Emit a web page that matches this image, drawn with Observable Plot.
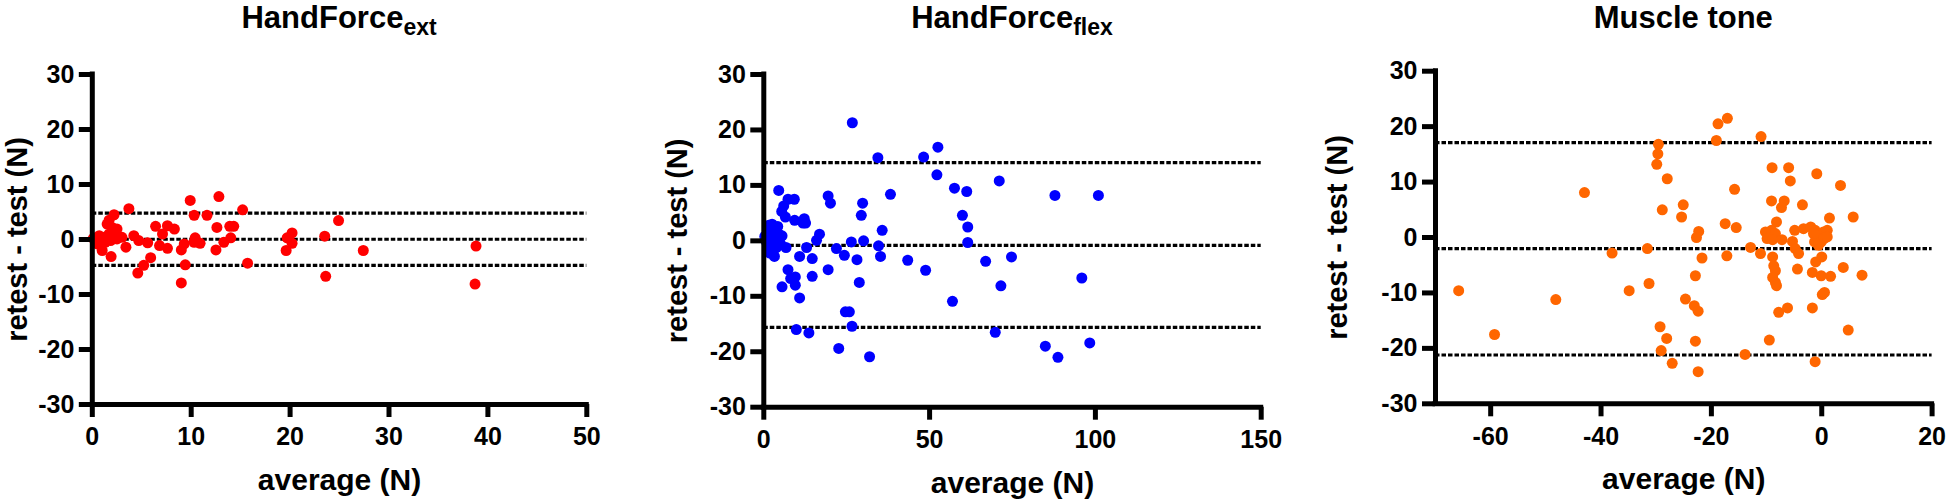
<!DOCTYPE html>
<html>
<head>
<meta charset="utf-8">
<script src="https://cdn.jsdelivr.net/npm/d3@7"></script>
<script src="https://cdn.jsdelivr.net/npm/@observablehq/plot@0.6"></script>
<style>
  html, body { margin: 0; padding: 0; background: #fff; }
  #root { position: relative; width: 1946px; height: 499px; overflow: hidden; font-family: "Liberation Sans", Arial, sans-serif; }
  .panel { position: absolute; top: 0; }
  .title { position: absolute; top: 0; text-align: center; font-weight: bold; font-size: 31px; line-height: 36px; color: #000; white-space: nowrap; }
  .title sub { font-size: 23px; vertical-align: -7px; line-height: 0; }
</style>
</head>
<body>
<div id="root"></div>
<script>
// ---- data ----
const yTicks = [-30, -20, -10, 0, 10, 20, 30];
const yDomain = [-30, 30];

const extTicks = [0, 10, 20, 30, 40, 50];
const extDomain = [0, 50];
const extLimits = [4.8, 0.05, -4.7];
const extPoints = [
  [3.7,5.6],[9.9,7.1],[12.8,7.8],[15.2,5.4],[2.2,4.5],[1.7,3.5],[10.3,4.4],[11.6,4.4],[6.4,2.4],[7.6,2.5],
  [8.3,1.9],[7.1,1.0],[12.6,2.2],[13.9,2.4],[14.3,2.4],[14.0,0.3],[13.3,-0.5],[10.4,0.3],[10.3,-0.5],[10.9,-0.7],
  [9.3,-0.8],[9.0,-1.9],[9.4,-4.6],[9.0,-7.9],[12.5,-1.9],[15.7,-4.3],[6.8,-1.1],[7.6,-1.6],[5.6,-0.6],[5.9,-3.3],
  [5.2,-4.7],[4.6,-6.1],[4.7,-0.2],[4.2,0.7],[3.4,-1.4],[1.9,-3.1],[1.0,-2.0],[0.3,-0.1],[0.7,0.7],[1.2,0.4],
  [1.7,1.0],[2.2,0.7],[2.5,0.1],[2.0,2.2],[2.5,1.9],[1.5,2.8],[0.8,-0.5],[1.3,-0.5],[3.0,0.4],[0.5,-0.8],
  [1.85,-0.2],[0.1,0.2],[0.4,0.3],[24.9,3.45],[20.2,1.2],[19.7,0.3],[20.2,-0.7],[19.6,-2.0],[23.5,0.6],[27.4,-2.0],
  [23.6,-6.7],[38.8,-1.2],[38.7,-8.1]
];

const flexTicks = [0, 50, 100, 150];
const flexDomain = [0, 150];
const flexLimits = [14.1, -0.8, -15.6];
const flexPoints = [
  [26.7,21.3],[34.4,15.0],[48.2,15.1],[52.5,16.9],[52.2,11.9],[57.5,9.5],[61.2,8.9],[71.0,10.8],[87.8,8.2],[100.9,8.2],
  [38.2,8.4],[29.8,6.8],[29.4,4.6],[59.9,4.6],[61.5,2.5],[61.5,-0.3],[35.7,1.9],[30.1,0.0],[26.4,-0.2],[34.6,-0.9],
  [35.2,-2.8],[28.1,-3.4],[24.3,-2.6],[21.9,-1.4],[43.4,-3.5],[48.8,-5.3],[66.9,-3.7],[74.7,-2.9],[28.8,-7.5],[19.4,-5.2],
  [71.5,-8.1],[95.9,-6.7],[56.9,-10.9],[24.6,-12.8],[25.8,-12.8],[26.6,-15.4],[69.8,-16.5],[98.3,-18.4],[84.9,-19.0],[88.7,-21.0],
  [31.9,-20.9],[22.6,-19.4],[13.6,-16.6],[9.8,-16.0],[10.8,-10.3],[9.5,-8.0],[9.5,-6.5],[8.1,-6.8],[7.3,-5.2],[5.5,-8.3],
  [14.6,-6.4],[14.6,-3.2],[10.8,-2.8],[12.9,-1.2],[6.7,-1.2],[15.9,0.1],[16.8,1.2],[19.4,8.1],[20.1,6.8],[9.2,7.5],
  [7.3,7.5],[4.5,9.1],[6.0,6.3],[5.4,5.3],[6.5,4.3],[9.3,3.7],[12.2,4.0],[12.6,3.2],[11.8,3.2],
  [0.5,0.3],[1.0,1.2],[1.5,2.8],[2.0,0.5],[2.5,3.0],[3.0,2.0],[3.5,1.0],[1.2,-0.5],[2.0,-1.0],[2.8,-1.8],
  [3.2,-2.8],[0.8,-0.2],[4.0,0.2],[4.5,1.2],[5.0,-0.5],[3.8,-1.2],[2.2,1.8],[1.8,-2.2],[0.3,0.8],[5.5,0.9],
  [4.2,2.6],[3.0,-0.3],[1.5,0.0]
];

const toneTicks = [-60, -40, -20, 0, 20];
const toneDomain = [-70, 20];
const toneLimits = [17.1, -2.0, -21.2];
const tonePoints = [
  [-65.8,-9.6],[-59.3,-17.5],[-48.2,-11.2],[-43.0,8.1],[-38.0,-2.8],[-34.9,-9.6],[-31.6,-2.0],[-31.3,-8.3],[-29.6,16.8],[-29.7,15.1],
  [-29.9,13.2],[-28.0,10.6],[-28.9,5.0],[-29.3,-16.1],[-28.1,-18.2],[-29.1,-20.4],[-27.1,-22.7],[-25.1,5.9],[-25.4,3.7],[-22.3,1.1],
  [-22.7,0.0],[-21.7,-3.7],[-22.9,-6.9],[-24.7,-11.1],[-23.1,-12.3],[-22.4,-13.3],[-22.9,-18.7],[-22.4,-24.2],[-18.8,20.5],[-17.1,21.5],
  [-19.1,17.5],[-11.0,18.2],[-15.8,8.7],[-17.5,2.5],[-15.5,1.8],[-12.9,-1.8],[-17.2,-3.3],[-11.1,-2.9],[-13.9,-21.1],[-9.5,-18.5],
  [-9.0,12.6],[-6.0,12.6],[-5.7,10.2],[-9.1,6.6],[-6.8,6.6],[-7.3,5.4],[-3.5,5.9],[-8.2,2.8],[-4.9,1.3],[-3.3,1.6],
  [-2.0,1.9],[-10.2,1.0],[-9.1,1.3],[-8.4,0.7],[-9.9,-0.2],[-8.9,-0.4],[-7.2,-0.4],[-5.3,-0.7],[-4.8,-2.0],[-4.2,-2.9],
  [-4.4,-5.7],[-8.9,-3.5],[-8.7,-5.1],[-8.4,-6.0],[-8.9,-7.2],[-8.4,-8.1],[-8.2,-8.7],[-7.8,-13.5],[-6.2,-12.7],[-1.7,-12.7],
  [-1.7,-6.3],[-1.1,-4.4],[0.0,-3.5],[-0.1,-6.9],[1.6,-7.0],[0.1,-10.3],[0.5,-9.9],[-0.9,11.5],[3.4,9.4],[1.4,3.5],
  [5.7,3.7],[3.9,-5.4],[7.3,-6.8],[4.8,-16.7],[-1.2,-22.4],
  [-1.2,1.3],[-0.4,0.7],[0.3,1.0],[1.0,1.3],[-0.8,-0.2],[-0.1,-0.8],[0.4,-0.2],[-1.3,-0.8],[-0.6,-1.4],[1.0,0.1],[-1.5,0.7]
];

const titles = ["HandForce", "HandForce", "Muscle tone"];
const subscripts = ["ext", "flex", ""];
const colors = ["#ff0000", "#0000ff", "#ff6600"];
const xLabel = "average (N)";
const yLabel = "retest - test (N)";

// ---- layout ----
const panels = [
  {left: 0,    width: 640, ml: 91.8,  mr: 53.7, mt: 74,   mb: 95,   points: extPoints,  ticks: extTicks,  domain: extDomain,  limits: extLimits},
  {left: 660,  width: 640, ml: 103.3, mr: 39.3, mt: 74,   mb: 92.3, points: flexPoints, ticks: flexTicks, domain: flexDomain, limits: flexLimits},
  {left: 1320, width: 626, ml: 115,   mr: 14.4, mt: 70.7, mb: 95.7, points: tonePoints, ticks: toneTicks, domain: toneDomain, limits: toneLimits}
];

const root = document.getElementById("root");
const fmt = d => String(d);
const AXW = 5;

panels.forEach((p, i) => {
  const div = document.createElement("div");
  div.className = "panel";
  div.style.left = p.left + "px";
  const data = p.points.map(([x, y]) => ({x, y}));
  const svg = Plot.plot({
    width: p.width,
    height: 499,
    marginLeft: p.ml,
    marginRight: p.mr,
    marginTop: p.mt,
    marginBottom: p.mb,
    style: {fontFamily: "'Liberation Sans', Arial, sans-serif", fontWeight: "bold", color: "#000", background: "transparent", overflow: "visible"},
    x: {domain: p.domain},
    y: {domain: yDomain},
    marks: [
      Plot.ruleY(p.limits, {stroke: "#000", strokeWidth: 3.2, strokeDasharray: "4.5,2"}),
      Plot.dot(data, {x: "x", y: "y", r: 5.5, fill: colors[i], stroke: "none"}),
      Plot.ruleX([p.domain[0]], {y1: () => yDomain[0], y2: () => yDomain[1], stroke: "#000", strokeWidth: AXW, strokeLinecap: "square"}),
      Plot.ruleY([yDomain[0]], {x1: () => p.domain[0], x2: () => p.domain[1], stroke: "#000", strokeWidth: AXW, strokeLinecap: "square"}),
      Plot.axisX({ticks: p.ticks, tickFormat: fmt, tickSize: 13, tickPadding: 10, strokeWidth: AXW, fontSize: 25, fontWeight: "bold", label: null}),
      Plot.axisY({ticks: yTicks, tickFormat: fmt, tickSize: 13, tickPadding: 5, strokeWidth: AXW, fontSize: 25, fontWeight: "bold", label: null}),
      Plot.text([xLabel], {frameAnchor: "bottom", lineAnchor: "middle", textAnchor: "middle", dy: 76, fontSize: 30, fontWeight: "bold", fill: "#000"}),
      Plot.text([yLabel], {frameAnchor: "left", lineAnchor: "middle", textAnchor: "middle", rotate: -90, dx: -(p.ml - 17), fontSize: 29, fontWeight: "bold", fill: "#000"})
    ]
  });
  div.appendChild(svg);
  const t = document.createElement("div");
  t.className = "title";
  t.style.left = p.ml + "px";
  t.style.width = (p.width - p.ml - p.mr) + "px";
  t.innerHTML = titles[i] + (subscripts[i] ? "<sub>" + subscripts[i] + "</sub>" : "");
  div.appendChild(t);
  root.appendChild(div);
});
</script>
</body>
</html>
